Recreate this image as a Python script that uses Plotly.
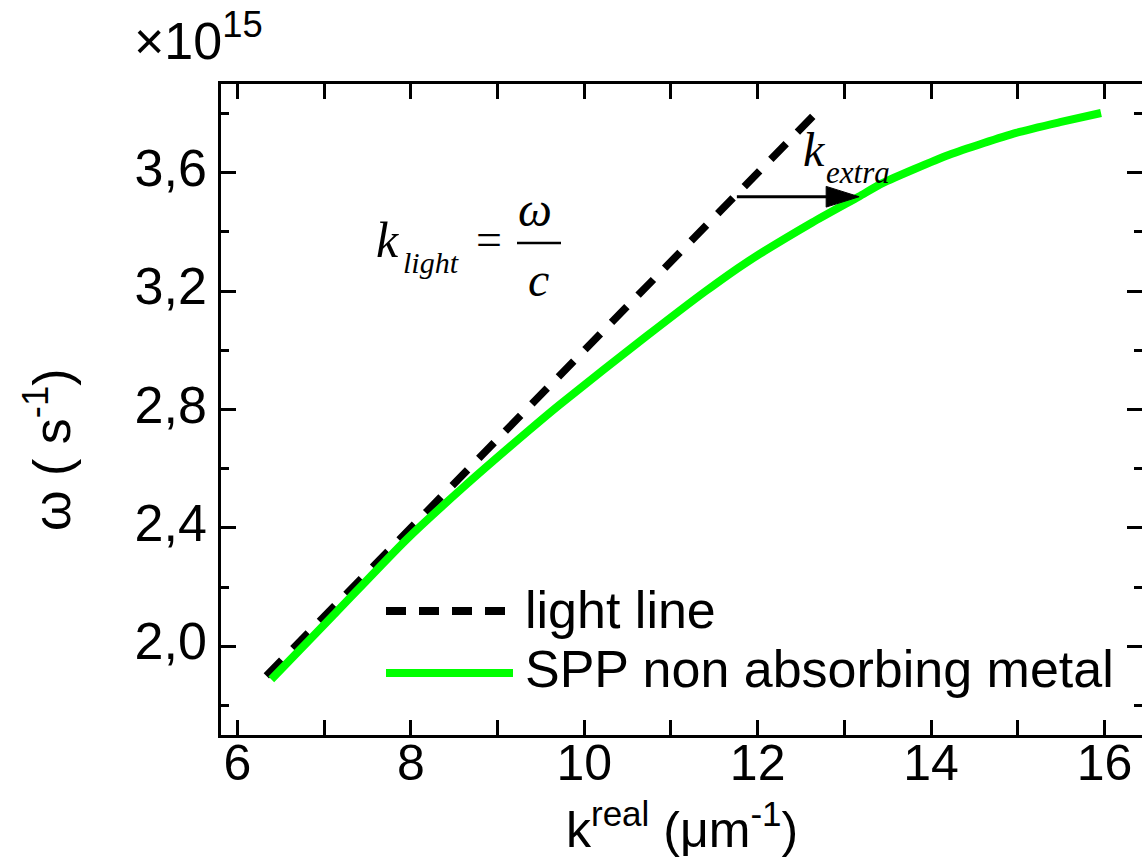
import plotly.graph_objects as go

# ---- data ----
light_k = [6.333, 12.667]
light_w = [1.90, 3.80]

spp_k = [6.39, 7.10, 7.94, 8.60, 9.36, 9.71, 10.71, 11.40, 11.86, 12.63, 13.17, 13.44, 14.21, 14.98, 15.50, 15.96]
spp_w = [1.888, 2.103, 2.358, 2.536, 2.729, 2.815, 3.046, 3.200, 3.295, 3.432, 3.520, 3.565, 3.661, 3.735, 3.772, 3.802]

x_ticks = [6, 8, 10, 12, 14, 16]
y_ticks = [2.0, 2.4, 2.8, 3.2, 3.6]
y_tick_text = ["2,0", "2,4", "2,8", "3,2", "3,6"]

arrow_start_k, arrow_end_k, arrow_w = 11.76, 13.17, 3.519

# ---- layout geometry (pixels) ----
W, H = 1142, 860
L, R, T, B = 221, 0, 84, 125
PW, PH = W - L - R, H - T - B
X0 = 5.81
PX_PER_K = 86.7


def px(x):
    return (x - L) / PW


def py(y):
    return (H - B - y) / PH


SANS = "Liberation Sans, Arial, sans-serif"
SERIF = "Liberation Serif, Times New Roman, serif"

fig = go.Figure()
fig.add_trace(go.Scatter(x=light_k, y=light_w, mode="lines",
                         line=dict(color="black", width=7.5, dash="22px,16px"),
                         showlegend=False))
fig.add_trace(go.Scatter(x=spp_k, y=spp_w, mode="lines",
                         line=dict(color="#00ff00", width=8, shape="spline", smoothing=0.6),
                         showlegend=False))
# empty trace so the right-hand tick axis is drawn
fig.add_trace(go.Scatter(x=[], y=[], yaxis="y2", showlegend=False, hoverinfo="skip"))

tick_common = dict(ticks="inside", ticklen=15, tickwidth=2.5, tickcolor="black",
                   showgrid=False, zeroline=False)
line_common = dict(showline=True, linecolor="black", linewidth=2.5)

fig.update_layout(
    xaxis=dict(range=[X0, X0 + PW / PX_PER_K], tickvals=x_ticks, mirror="allticks",
               tickfont=dict(family=SANS, size=50, color="black"), ticklabelstandoff=-18,
               minor=dict(ticks="inside", ticklen=8, tickwidth=2.5, tickcolor="black", dtick=1, tick0=0),
               **tick_common, **line_common),
    yaxis=dict(range=[1.7, 3.9], tickvals=y_ticks, ticktext=y_tick_text, mirror=False,
               tickfont=dict(family=SANS, size=52, color="black"),
               ticklabelstandoff=1, ticklabelshift=-5,
               minor=dict(ticks="inside", ticklen=8, tickwidth=2.5, tickcolor="black", dtick=0.2, tick0=0),
               **tick_common, **line_common),
    yaxis2=dict(range=[1.7, 3.9], tickvals=y_ticks, overlaying="y", side="right", anchor="x",
                showticklabels=False, showline=False,
                minor=dict(ticks="inside", ticklen=8, tickwidth=2.5, tickcolor="black", dtick=0.2, tick0=0),
                **tick_common),
)

shapes = []
annotations = []


def note(x, y, text, size, family=SANS, xanchor="left", angle=0):
    annotations.append(dict(xref="paper", yref="paper", x=px(x), y=py(y), xanchor=xanchor,
                            yanchor="middle", text=text, showarrow=False, textangle=angle,
                            font=dict(family=family, size=size, color="black")))


# legend samples
shapes.append(dict(type="line", xref="paper", yref="paper", x0=px(386), x1=px(505), y0=py(611), y1=py(611),
                   line=dict(color="black", width=8, dash="20px,13px")))
shapes.append(dict(type="line", xref="paper", yref="paper", x0=px(386), x1=px(513), y0=py(673), y1=py(673),
                   line=dict(color="#00ff00", width=8)))
note(523, 610, "light line", 52)
note(523, 669, "SPP non absorbing metal", 52)

# k_extra arrow
shapes.append(dict(type="line", xref="x", yref="y", x0=arrow_start_k, x1=arrow_end_k - 0.3, y0=arrow_w, y1=arrow_w,
                   line=dict(color="black", width=3)))
shapes.append(dict(type="path", xref="x", yref="y",
                   path=f"M {arrow_end_k} {arrow_w} L {arrow_end_k - 0.38} {arrow_w + 0.035} "
                        f"L {arrow_end_k - 0.38} {arrow_w - 0.035} Z",
                   fillcolor="black", line=dict(color="black", width=1)))
note(801, 149, "<i>k</i>", 48, SERIF)
note(824, 172, "<i>extra</i>", 31, SERIF)

# k_light = omega / c
note(374, 240, "<i>k</i>", 50, SERIF)
note(401, 262, "<i>light</i>", 30, SERIF)
note(474, 240, "=", 46, SERIF)
note(535, 209, "<i>ω</i>", 48, SERIF, xanchor="center")
shapes.append(dict(type="line", xref="paper", yref="paper", x0=px(517), x1=px(561), y0=py(243), y1=py(243),
                   line=dict(color="black", width=2.5)))
note(538, 279, "<i>c</i>", 48, SERIF, xanchor="center")

# axis titles and exponent
note(682, 826, "k<sup>real</sup> (μm<sup>-1</sup>)", 50, xanchor="center")
note(48, 450, "ω ( s<sup>-1</sup>)", 52, xanchor="center", angle=-90)
note(132, 37, "×10<sup>15</sup>", 52)

fig.update_layout(width=W, height=H, margin=dict(l=L, r=R, t=T, b=B, pad=0),
                  paper_bgcolor="white", plot_bgcolor="white",
                  shapes=shapes, annotations=annotations, showlegend=False)

fig.write_html("out.html", config={"displayModeBar": False},
               post_script="document.body.style.margin='0';document.body.style.overflow='hidden';")
